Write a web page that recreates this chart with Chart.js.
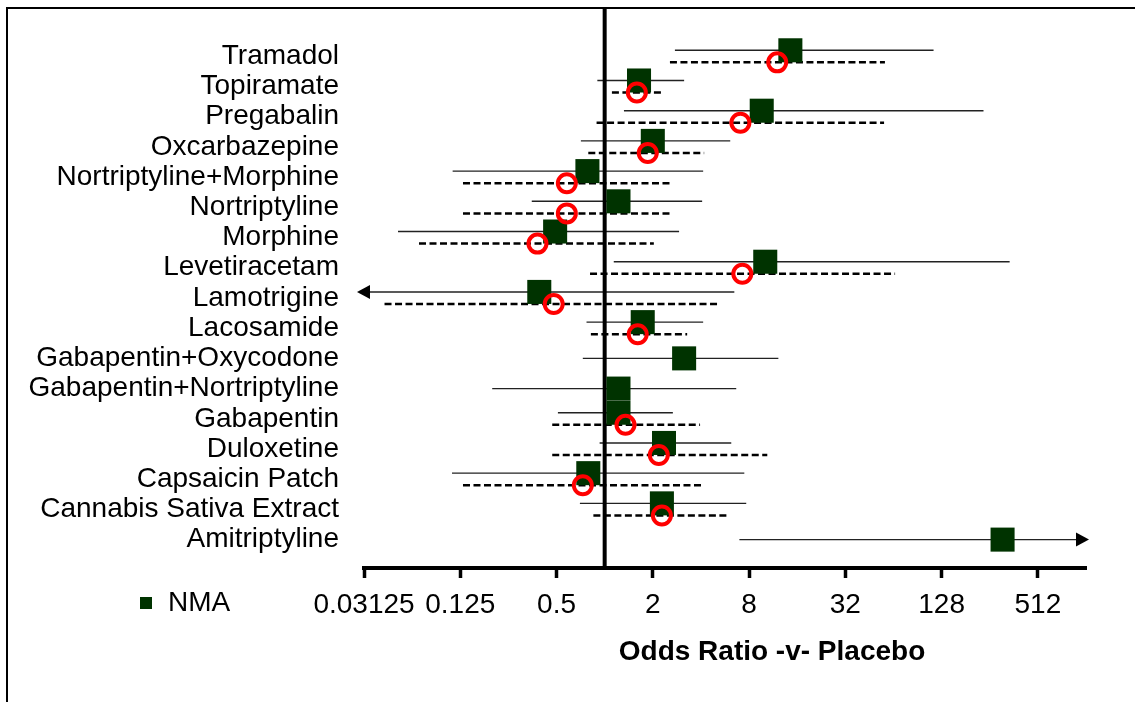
<!DOCTYPE html>
<html lang="en">
<head>
<meta charset="UTF-8">
<title>Odds Ratio -v- Placebo</title>
<style>
    body { margin: 0; background: #fff; }
    #wrap { position: relative; width: 1135px; height: 702px; font-family: "Liberation Sans", Arial, sans-serif; }
    #frame {
        position: absolute; left: 6px; top: 7px; right: 0; bottom: 0;
        border-top: 2px solid #000; border-left: 2px solid #000;
        pointer-events: none;
    }
    #legend {
        position: absolute; left: 140px; top: 585px;
        font-size: 28px; line-height: 34px; color: #000; white-space: nowrap;
    }
    #legend .box {
        display: inline-block; width: 12px; height: 12px; background: #003300;
        margin-right: 16px; vertical-align: 2px;
    }
    #xtitle {
        position: absolute; left: 772px; top: 635px; transform: translateX(-50%);
        font-size: 28px; font-weight: bold; color: #000; white-space: nowrap;
    }
</style>
</head>
<body>
<div id="wrap">
    <canvas id="chart" width="1135" height="702"></canvas>
    <div id="frame"></div>
    <div id="legend"><span class="box"></span>NMA</div>
    <div id="xtitle">Odds Ratio -v- Placebo</div>
</div>

<script src="https://cdn.jsdelivr.net/npm/chart.js"></script>
<script>
    // rows, top to bottom
    const drugs = ['Tramadol', 'Topiramate', 'Pregabalin', 'Oxcarbazepine', 'Nortriptyline+Morphine',
        'Nortriptyline', 'Morphine', 'Levetiracetam', 'Lamotrigine', 'Lacosamide', 'Gabapentin+Oxycodone',
        'Gabapentin+Nortriptyline', 'Gabapentin', 'Duloxetine', 'Capsaicin Patch',
        'Cannabis Sativa Extract', 'Amitriptyline'];

    // network meta-analysis odds ratios with 95% interval
    const nmaOR = [14.5, 1.64, 9.6, 2.0, 0.78, 1.22, 0.49, 10.1, 0.39, 1.73, 3.14, 1.22, 1.22, 2.35, 0.79, 2.28, 308];
    const nmaLow = [2.75, 0.90, 1.32, 0.71, 0.112, 0.35, 0.051, 1.14, 0.01, 0.77, 0.73, 0.198, 0.51, 0.93, 0.111, 0.70, 6.96];
    const nmaHigh = [114, 3.14, 234, 6.1, 4.13, 4.07, 2.92, 341, 6.47, 4.13, 12.2, 6.65, 2.67, 6.19, 7.47, 7.68, 2000];

    // pairwise odds ratios (null = no direct evidence)
    const pwOR = [12.0, 1.59, 7.06, 1.86, 0.58, 0.58, 0.38, 7.26, 0.48, 1.61, null, null, 1.35, 2.18, 0.73, 2.28, null];
    const pwLow = [2.56, 1.11, 0.89, 0.79, 0.13, 0.13, 0.069, 0.81, 0.042, 0.82, null, null, 0.47, 0.47, 0.13, 0.85, null];
    const pwHigh = [56.6, 2.28, 55.9, 4.19, 2.56, 2.56, 2.03, 65.5, 5.28, 3.28, null, null, 3.95, 10.4, 4.19, 5.94, null];

    const xTicks = [0.03125, 0.125, 0.5, 2, 8, 32, 128, 512];
    const xMin = 0.03125, xMax = 1024;
    const yMin = -1.6, yMax = 16.94;
    const shift = 0.2; // nudge NMA up / pairwise down within a row

    const nmaY = drugs.map((d, i) => pwOR[i] == null ? i : i - shift);
    const pwY = drugs.map((d, i) => i + shift);

    const datasets = [];

    datasets.push({
        label: 'Pairwise',
        data: drugs.map((d, i) => ({ x: pwOR[i], y: pwY[i] })).filter(p => p.x != null),
        pointStyle: 'circle',
        pointRadius: 9,
        borderWidth: 4,
        borderColor: '#ff0000',
        backgroundColor: 'rgba(0,0,0,0)',
        order: 0
    });

    datasets.push({
        label: 'NMA',
        data: drugs.map((d, i) => ({ x: nmaOR[i], y: nmaY[i] })),
        pointStyle: 'rect',
        pointRadius: 17,
        borderWidth: 0,
        backgroundColor: '#003300',
        borderColor: '#003300',
        order: 1
    });

    // line of no effect at OR = 1
    datasets.push({
        type: 'line',
        data: [{ x: 1, y: yMin }, { x: 1, y: yMax }],
        borderColor: '#000',
        borderWidth: 4,
        pointRadius: 0,
        order: 2
    });

    drugs.forEach((d, i) => {
        if (pwOR[i] != null) {
            datasets.push({
                type: 'line',
                data: [{ x: pwLow[i], y: pwY[i] }, { x: pwHigh[i], y: pwY[i] }],
                borderColor: '#000',
                borderWidth: 2.5,
                borderDash: [7, 3.5],
                pointRadius: 0,
                order: 3
            });
        }
        datasets.push({
            type: 'line',
            data: [{ x: nmaLow[i], y: nmaY[i] }, { x: nmaHigh[i], y: nmaY[i] }],
            borderColor: '#222',
            borderWidth: 1.4,
            pointRadius: 0,
            order: 4
        });
    });

    // arrow heads where an interval runs off the axis
    const arrowPlugin = {
        id: 'ciArrows',
        afterDatasetsDraw(chart) {
            const { ctx, chartArea, scales: { x, y } } = chart;
            const tri = (tipX, py, dir) => {
                ctx.beginPath();
                ctx.moveTo(tipX, py);
                ctx.lineTo(tipX + dir * 13, py - 7);
                ctx.lineTo(tipX + dir * 13, py + 7);
                ctx.closePath();
                ctx.fill();
            };
            ctx.save();
            ctx.fillStyle = '#000';
            drugs.forEach((d, i) => {
                const py = y.getPixelForValue(nmaY[i]);
                if (nmaLow[i] < xMin) tri(chartArea.left - 7, py, 1);
                if (nmaHigh[i] > xMax) tri(chartArea.right + 3, py, -1);
            });
            ctx.restore();
        }
    };

    const noEdgePad = s => {
        s.paddingTop = 0; s.paddingBottom = 0;
        s.paddingLeft = 0; s.paddingRight = 0;
    };

    const chart = new Chart(document.getElementById('chart'), {
        type: 'scatter',
        data: { datasets },
        plugins: [arrowPlugin],
        options: {
            responsive: false,
            animation: false,
            events: [],
            layout: { autoPadding: false, padding: { left: 7, right: 49, top: 8, bottom: 74 } },
            plugins: {
                legend: { display: false },
                tooltip: { enabled: false }
            },
            scales: {
                x: {
                    type: 'logarithmic',
                    min: xMin,
                    max: xMax,
                    afterBuildTicks: s => { s.ticks = xTicks.map(v => ({ value: v })); },
                    afterFit: s => { s.height = 60; noEdgePad(s); },
                    ticks: {
                        autoSkip: false,
                        maxRotation: 0,
                        minRotation: 0,
                        padding: 10,
                        color: '#000',
                        font: { family: '"Liberation Sans", Arial', size: 28 },
                        callback: v => String(v)
                    },
                    grid: {
                        drawOnChartArea: false,
                        drawTicks: true,
                        tickLength: 10,
                        tickWidth: 3.5,
                        tickColor: '#000'
                    },
                    border: { display: true, color: '#000', width: 4 }
                },
                y: {
                    type: 'linear',
                    reverse: true,
                    min: yMin,
                    max: yMax,
                    afterBuildTicks: s => { s.ticks = drugs.map((d, i) => ({ value: i })); },
                    afterFit: s => { s.width = 357; noEdgePad(s); },
                    ticks: {
                        autoSkip: false,
                        padding: 25,
                        color: '#000',
                        font: { family: '"Liberation Sans", Arial', size: 28, lineHeight: 1 },
                        callback: v => drugs[v]
                    },
                    grid: { display: false, drawTicks: false },
                    border: { display: false }
                }
            }
        }
    });
</script>
</body>
</html>
